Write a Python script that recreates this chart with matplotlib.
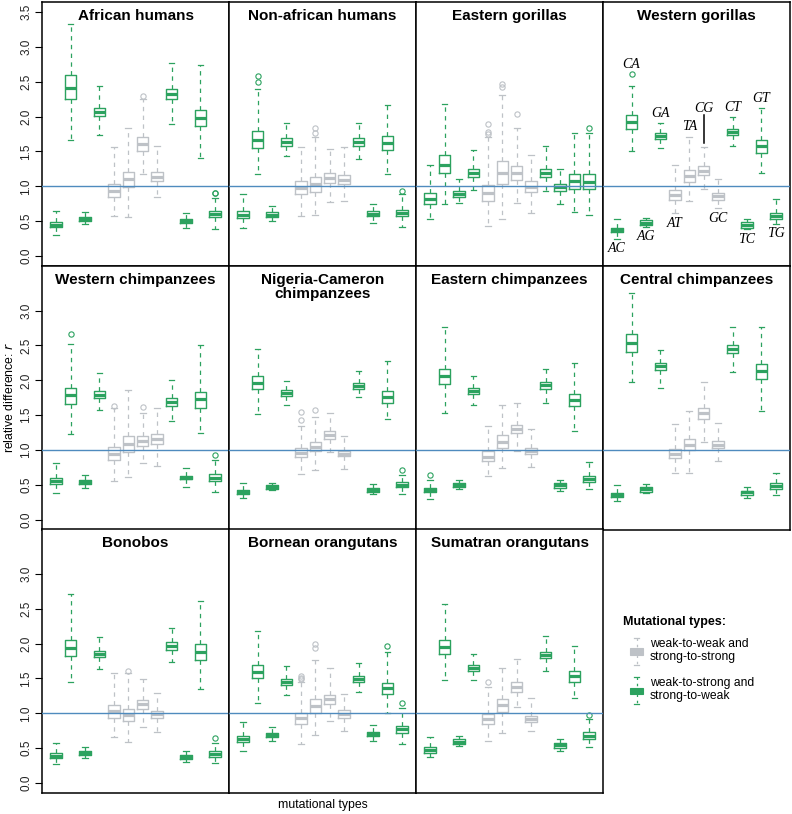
import matplotlib.pyplot as plt
from matplotlib.patches import Rectangle

plt.rcParams['font.family'] = ['Liberation Sans', 'DejaVu Sans']

# mutational types in plotting order
types = ["AC", "CA", "AG", "GA", "AT", "TA", "CG", "GC", "CT", "TC", "GT", "TG"]
grey_types = ["AT", "TA", "CG", "GC"]
labels_above = ["CA", "GA", "TA", "CG", "CT", "GT"]

# each box: [lower whisker, Q1, median, Q3, upper whisker]
african_humans = [
    [0.30, 0.41, 0.445, 0.49, 0.645], [1.665, 2.25, 2.415, 2.59, 3.325],
    [0.455, 0.50, 0.535, 0.565, 0.635], [1.73, 2.005, 2.067, 2.13, 2.44],
    [0.574, 0.85, 0.94, 1.03, 1.57], [0.565, 0.995, 1.10, 1.205, 1.84],
    [1.177, 1.507, 1.608, 1.703, 2.25], [0.85, 1.077, 1.14, 1.21, 1.584],
    [1.895, 2.25, 2.32, 2.397, 2.775], [0.40, 0.47, 0.50, 0.535, 0.62],
    [1.40, 1.86, 1.98, 2.095, 2.737], [0.39, 0.555, 0.60, 0.65, 0.83]]
african_humans_out = {6: [2.297], 11: [0.90, 0.91]}

nonafrican_humans = [
    [0.407, 0.54, 0.593, 0.646, 0.885], [1.172, 1.555, 1.67, 1.79, 2.40],
    [0.498, 0.565, 0.593, 0.627, 0.718], [1.43, 1.584, 1.64, 1.70, 1.91],
    [0.574, 0.885, 0.98, 1.08, 1.56], [0.584, 0.923, 1.03, 1.139, 1.713],
    [0.775, 1.048, 1.124, 1.196, 1.54], [0.79, 1.03, 1.086, 1.163, 1.56],
    [1.387, 1.58, 1.636, 1.694, 1.914], [0.478, 0.579, 0.608, 0.641, 0.751],
    [1.177, 1.517, 1.617, 1.722, 2.172], [0.421, 0.569, 0.617, 0.665, 0.885]]
nonafrican_humans_out = {1: [2.493, 2.584], 5: [1.77, 1.84], 11: [0.938]}

eastern_gorillas = [
    [0.526, 0.751, 0.823, 0.909, 1.31], [0.746, 1.187, 1.31, 1.45, 2.187],
    [0.756, 0.85, 0.895, 0.933, 1.105], [0.943, 1.134, 1.196, 1.249, 1.526],
    [0.43, 0.785, 0.90, 1.024, 1.713], [0.536, 1.033, 1.187, 1.364, 2.31],
    [0.766, 1.086, 1.187, 1.297, 1.833], [0.622, 0.914, 0.995, 1.077, 1.445],
    [0.938, 1.134, 1.196, 1.249, 1.584], [0.746, 0.928, 0.986, 1.038, 1.249],
    [0.636, 0.967, 1.072, 1.172, 1.761], [0.589, 0.957, 1.062, 1.172, 1.766]]
eastern_gorillas_out = {4: [1.75, 1.775, 1.89], 5: [2.43, 2.47], 6: [2.033], 11: [1.842]}

western_gorillas = [
    [0.249, 0.34, 0.373, 0.402, 0.526], [1.512, 1.828, 1.928, 2.019, 2.44],
    [0.416, 0.445, 0.478, 0.512, 0.541], [1.555, 1.684, 1.722, 1.761, 1.904],
    [0.612, 0.804, 0.88, 0.947, 1.311], [0.79, 1.062, 1.153, 1.239, 1.713],
    [0.967, 1.163, 1.225, 1.287, 1.565], [0.684, 0.809, 0.856, 0.909, 1.105],
    [1.584, 1.732, 1.775, 1.823, 1.99], [0.383, 0.407, 0.45, 0.493, 0.526],
    [1.196, 1.483, 1.579, 1.66, 2.12], [0.464, 0.531, 0.569, 0.612, 0.813]]
western_gorillas_out = {1: [2.61]}

western_chimps = [
    [0.377, 0.506, 0.554, 0.597, 0.812], [1.237, 1.662, 1.786, 1.891, 2.517],
    [0.449, 0.516, 0.544, 0.573, 0.635], [1.58, 1.743, 1.796, 1.848, 2.106],
    [0.554, 0.855, 0.946, 1.041, 1.60], [0.611, 0.969, 1.089, 1.199, 1.862],
    [0.812, 1.055, 1.127, 1.199, 1.528], [0.778, 1.084, 1.16, 1.227, 1.605],
    [1.423, 1.638, 1.69, 1.748, 2.0], [0.463, 0.578, 0.602, 0.626, 0.745],
    [1.251, 1.609, 1.733, 1.839, 2.507], [0.396, 0.549, 0.597, 0.649, 0.855]]
western_chimps_out = {1: [2.665], 4: [1.628], 6: [1.624], 11: [0.931]}

nigeria_cameron = [
    [0.31, 0.372, 0.401, 0.43, 0.53], [1.519, 1.872, 1.968, 2.068, 2.45],
    [0.42, 0.439, 0.468, 0.501, 0.53], [1.652, 1.776, 1.819, 1.862, 1.996],
    [0.659, 0.898, 0.96, 1.032, 1.351], [0.707, 0.979, 1.041, 1.122, 1.471],
    [0.965, 1.156, 1.213, 1.27, 1.533], [0.726, 0.912, 0.95, 0.993, 1.203],
    [1.762, 1.877, 1.925, 1.968, 2.135], [0.368, 0.396, 0.43, 0.458, 0.506],
    [1.452, 1.676, 1.762, 1.853, 2.273], [0.372, 0.463, 0.501, 0.535, 0.635]]
nigeria_cameron_out = {4: [1.433, 1.543], 5: [1.576], 11: [0.707]}

eastern_chimps = [
    [0.296, 0.396, 0.425, 0.454, 0.564], [1.528, 1.948, 2.058, 2.168, 2.765],
    [0.439, 0.463, 0.497, 0.53, 0.564], [1.652, 1.805, 1.848, 1.891, 2.063],
    [0.621, 0.836, 0.907, 0.979, 1.351], [0.74, 1.036, 1.122, 1.213, 1.652],
    [0.993, 1.242, 1.304, 1.366, 1.671], [0.75, 0.936, 0.984, 1.032, 1.304],
    [1.676, 1.882, 1.934, 1.982, 2.159], [0.406, 0.458, 0.492, 0.525, 0.573],
    [1.27, 1.628, 1.719, 1.81, 2.245], [0.435, 0.54, 0.583, 0.621, 0.826]]
eastern_chimps_out = {0: [0.635]}

central_chimps = [
    [0.267, 0.33, 0.358, 0.387, 0.497], [1.977, 2.402, 2.536, 2.67, 3.247],
    [0.377, 0.401, 0.435, 0.463, 0.516], [1.891, 2.154, 2.206, 2.254, 2.431],
    [0.664, 0.883, 0.95, 1.017, 1.371], [0.673, 1.003, 1.079, 1.156, 1.562],
    [1.113, 1.452, 1.533, 1.609, 1.977], [0.84, 1.022, 1.074, 1.127, 1.39],
    [2.125, 2.397, 2.455, 2.512, 2.765], [0.315, 0.358, 0.392, 0.415, 0.468],
    [1.562, 2.025, 2.135, 2.235, 2.765], [0.358, 0.439, 0.482, 0.525, 0.673]]
central_chimps_out = {}

bonobos = [
    [0.268, 0.354, 0.388, 0.426, 0.569], [1.445, 1.818, 1.943, 2.053, 2.718],
    [0.354, 0.397, 0.426, 0.455, 0.517], [1.632, 1.804, 1.847, 1.895, 2.096],
    [0.66, 0.938, 1.029, 1.115, 1.584], [0.584, 0.885, 0.976, 1.057, 1.574],
    [0.804, 1.062, 1.129, 1.187, 1.493], [0.732, 0.933, 0.986, 1.038, 1.292],
    [1.732, 1.914, 1.971, 2.019, 2.23], [0.301, 0.34, 0.373, 0.402, 0.464],
    [1.354, 1.761, 1.88, 2.0, 2.617], [0.282, 0.373, 0.411, 0.455, 0.569]]
bonobos_out = {5: [1.612], 11: [0.641]}

bornean_orangutans = [
    [0.459, 0.589, 0.627, 0.675, 0.871], [1.153, 1.502, 1.598, 1.699, 2.177],
    [0.603, 0.656, 0.689, 0.722, 0.804], [1.263, 1.411, 1.455, 1.498, 1.679],
    [0.565, 0.847, 0.928, 1.0, 1.45], [0.689, 1.005, 1.1, 1.201, 1.766],
    [0.895, 1.134, 1.206, 1.268, 1.656], [0.742, 0.928, 0.986, 1.043, 1.278],
    [1.301, 1.455, 1.498, 1.541, 1.722], [0.603, 0.675, 0.699, 0.727, 0.833],
    [1.005, 1.278, 1.364, 1.44, 1.876], [0.56, 0.722, 0.775, 0.823, 1.077]]
bornean_orangutans_out = {4: [1.49, 1.51, 1.53], 5: [1.943, 1.995], 10: [1.962], 11: [1.148]}

sumatran_orangutans = [
    [0.368, 0.435, 0.474, 0.517, 0.66], [1.478, 1.847, 1.952, 2.057, 2.565],
    [0.526, 0.56, 0.593, 0.627, 0.679], [1.478, 1.608, 1.646, 1.689, 1.856],
    [0.608, 0.842, 0.914, 0.986, 1.373], [0.713, 1.024, 1.115, 1.206, 1.646],
    [1.091, 1.311, 1.383, 1.45, 1.78], [0.746, 0.876, 0.923, 0.967, 1.215],
    [1.612, 1.789, 1.837, 1.885, 2.11], [0.464, 0.507, 0.545, 0.574, 0.632],
    [1.215, 1.45, 1.531, 1.612, 1.967], [0.521, 0.632, 0.679, 0.727, 0.923]]
sumatran_orangutans_out = {4: [1.455], 11: [0.971]}

panels = [
    ("African humans", african_humans, african_humans_out),
    ("Non-african humans", nonafrican_humans, nonafrican_humans_out),
    ("Eastern gorillas", eastern_gorillas, eastern_gorillas_out),
    ("Western gorillas", western_gorillas, western_gorillas_out),
    ("Western chimpanzees", western_chimps, western_chimps_out),
    ("Nigeria-Cameron\nchimpanzees", nigeria_cameron, nigeria_cameron_out),
    ("Eastern chimpanzees", eastern_chimps, eastern_chimps_out),
    ("Central chimpanzees", central_chimps, central_chimps_out),
    ("Bonobos", bonobos, bonobos_out),
    ("Bornean orangutans", bornean_orangutans, bornean_orangutans_out),
    ("Sumatran orangutans", sumatran_orangutans, sumatran_orangutans_out),
]

green = "#2CA25F"
grey = "#BEC2C7"
hline = "#4F8BBE"

W, H = 792, 814
fig = plt.figure(figsize=(W / 100, H / 100), dpi=100)
col_left = [42, 229, 416, 603]
row_top = [2.3, 266, 529.3]
pw, ph = 187, 263.5

for k, (title, stats, outs) in enumerate(panels):
    r, c = divmod(k, 4)
    ax = fig.add_axes([col_left[c] / W, 1 - (row_top[r] + ph) / H, pw / W, ph / H])
    for i, t in enumerate(types):
        col = grey if t in grey_types else green
        lo, q1, med, q3, hi = stats[i]
        st = dict(whislo=lo, q1=q1, med=med, q3=q3, whishi=hi, fliers=outs.get(i, []))
        ax.bxp([st], positions=[i + 1], widths=0.8, capwidths=0.4, showfliers=True,
               boxprops=dict(color=col, lw=1.0),
               medianprops=dict(color=col, lw=2.3, solid_capstyle='butt'),
               whiskerprops=dict(color=col, lw=0.9, linestyle=(0, (3.5, 3.5))),
               capprops=dict(color=col, lw=0.9),
               flierprops=dict(marker='o', markersize=3.8, markerfacecolor='none',
                               markeredgecolor=col, markeredgewidth=0.8))
    ax.axhline(1.0, color=hline, lw=1.0, zorder=5)
    ax.set_xlim(0.02, 12.98)
    ax.set_ylim(-0.14, 3.64)
    ax.set_xticks([])
    for s in ax.spines.values():
        s.set_linewidth(1.1)
    if c == 0:
        ticks = [0, 0.5, 1, 1.5, 2, 2.5, 3, 3.5] if r == 0 else [0, 0.5, 1, 1.5, 2, 2.5, 3]
        ax.set_yticks(ticks)
        ax.set_yticklabels([f"{v:.1f}" for v in ticks], rotation=90, va='center',
                           fontsize=8.5, color='#222222')
        ax.tick_params(axis='y', length=5, width=0.8, pad=2)
    else:
        ax.set_yticks([])
    ax.text(0.5, 1 - 6.5 / ph, title, transform=ax.transAxes, ha='center', va='top',
            fontsize=11, fontweight='bold', linespacing=1.05)

    if title == "Western gorillas":
        for i, t in enumerate(types):
            lo, q1, med, q3, hi = stats[i]
            top = max([hi] + outs.get(i, []))
            kw = dict(ha='center', va='center', fontsize=10, style='italic',
                      family=['Liberation Serif', 'DejaVu Serif'])
            if t == "CG":
                ax.plot([i + 1, i + 1], [top + 0.05, top + 0.46], color='black', lw=1.1)
                ax.text(i + 1, top + 0.55, t, **kw)
            elif t in labels_above:
                ax.text(i + 1, top + 0.14, t, **kw)
            else:
                ax.text(i + 1, lo - 0.14, t, **kw)

# legend in the empty panel
lax = fig.add_axes([col_left[3] / W, 1 - (row_top[2] + ph) / H, pw / W, ph / H])
lax.set_xlim(0, pw)
lax.set_ylim(ph, 0)
lax.axis('off')
lax.text(19.7, 92.4, "Mutational types:", fontsize=9, fontweight='bold', va='center')
for cy, col, txt in [(122.4, grey, "weak-to-weak and\nstrong-to-strong"),
                     (161.5, green, "weak-to-strong and\nstrong-to-weak")]:
    lax.add_patch(Rectangle((27.2, cy - 3.3), 13, 6.6, facecolor=col, edgecolor=col, lw=0.8))
    lax.plot([31.2, 36.2], [cy - 14, cy - 14], color=col, lw=0.9)
    lax.plot([31.2, 36.2], [cy + 13, cy + 13], color=col, lw=0.9)
    lax.plot([33.7, 33.7], [cy - 14, cy - 3.3], color=col, lw=0.9, linestyle=(0, (2, 3)))
    lax.plot([33.7, 33.7], [cy + 3.3, cy + 13], color=col, lw=0.9, linestyle=(0, (2, 3)))
    lax.text(47, cy - 1, txt, fontsize=8.7, va='center', linespacing=1.1)

fig.text(322.5 / W, 1 - 805 / H, "mutational types", ha='center', va='center', fontsize=8.8)
fig.text(10 / W, 1 - 397 / H, "relative difference: $r$", ha='center', va='center',
         rotation=90, fontsize=8.8)

fig.savefig("out.png", dpi=100)
